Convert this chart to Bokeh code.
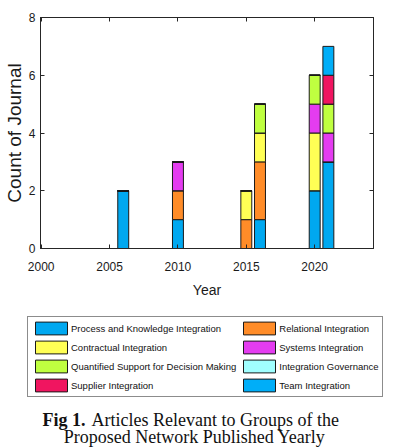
from bokeh.plotting import figure
from bokeh.models import Range1d, LinearAxis, FixedTicker, Legend, LegendItem, Label
from bokeh.embed import file_html
from bokeh.resources import INLINE

# ---- data ----
years = [2006, 2010, 2015, 2016, 2020, 2021]
process_knowledge = [2, 1, 0, 1, 2, 3]
relational = [0, 1, 1, 2, 0, 0]
contractual = [0, 0, 1, 1, 2, 0]
systems = [0, 1, 0, 0, 1, 1]
quantified = [0, 0, 0, 1, 1, 1]
governance = [0, 0, 0, 0, 0, 0]
supplier = [0, 0, 0, 0, 0, 1]
team = [0, 0, 0, 0, 0, 1]

series_keys = ["process_knowledge", "relational", "contractual", "systems",
               "quantified", "governance", "supplier", "team"]
series_labels = ["Process and Knowledge Integration", "Relational Integration",
                 "Contractual Integration", "Systems Integration",
                 "Quantified Support for Decision Making", "Integration Governance",
                 "Supplier Integration", "Team Integration"]
series_colors = ["#00A8F0", "#FF8C28", "#FFFF55", "#E43CF0",
                 "#BFFF40", "#A0FFFF", "#F01560", "#00AEF8"]
x_ticks = [2000, 2005, 2010, 2015, 2020]
y_ticks = [0, 2, 4, 6, 8]

data = dict(years=years, process_knowledge=process_knowledge, relational=relational,
            contractual=contractual, systems=systems, quantified=quantified,
            governance=governance, supplier=supplier, team=team)

SANS = "Liberation Sans"
SERIF = "Liberation Serif"
AX = "#262626"

# ---------------- chart ----------------
p = figure(width=398, height=305, output_backend="svg", toolbar_location=None,
           x_range=Range1d(1999.95, 2024.3), y_range=Range1d(0, 8),
           min_border_left=38, min_border_right=25, min_border_top=17,
           min_border_bottom=57)
p.grid.visible = False
p.outline_line_color = AX

p.vbar_stack(series_keys, x="years", width=0.8, source=data,
             color=series_colors, line_color="#1a1a1a", line_width=1)

for ax in (p.xaxis[0], p.yaxis[0]):
    ax.major_tick_in = 4
    ax.major_tick_out = 0
    ax.minor_tick_line_color = None
    ax.axis_line_color = AX
    ax.major_tick_line_color = AX
    ax.major_label_text_font = SANS
    ax.major_label_text_font_size = "12px"
    ax.major_label_text_color = "#1a1a1a"

p.xaxis[0].ticker = FixedTicker(ticks=x_ticks)
p.yaxis[0].ticker = FixedTicker(ticks=y_ticks)
p.xaxis[0].axis_label = "Year"
p.xaxis[0].axis_label_text_font = SANS
p.xaxis[0].axis_label_text_font_size = "14px"
p.xaxis[0].axis_label_text_font_style = "normal"
p.xaxis[0].axis_label_text_color = "#1a1a1a"
p.xaxis[0].axis_label_standoff = 8
p.xaxis[0].major_label_standoff = 13
p.yaxis[0].axis_label = "Count of Journal"
p.yaxis[0].axis_label_text_font = SANS
p.yaxis[0].axis_label_text_font_size = "19px"
p.yaxis[0].axis_label_text_font_style = "normal"
p.yaxis[0].axis_label_text_color = "#1a1a1a"
p.yaxis[0].axis_label_standoff = 1
p.yaxis[0].major_label_standoff = 5

for loc, ticks in (("right", y_ticks), ("above", x_ticks)):
    a = LinearAxis(ticker=FixedTicker(ticks=ticks), major_tick_in=4, major_tick_out=0,
                   minor_tick_line_color=None, axis_line_color=AX,
                   major_tick_line_color=AX, major_label_text_font_size="0px",
                   major_label_standoff=0)
    p.add_layout(a, loc)

# ---------------- legend + caption ----------------
q = figure(width=398, height=143, output_backend="svg", toolbar_location=None,
           x_axis_type=None, y_axis_type=None, x_range=Range1d(0, 1),
           y_range=Range1d(0, 1), min_border=0, min_border_left=0,
           min_border_right=0, min_border_top=0, min_border_bottom=0,
           outline_line_color=None)
q.grid.visible = False
renderers = q.vbar_stack(series_keys, x="years", width=0.8, source=data,
                         color=series_colors, line_color="#1a1a1a", line_width=1,
                         visible=False)

items = [LegendItem(label=lab, renderers=[r]) for lab, r in zip(series_labels, renderers)]
order = [0, 2, 4, 6, 1, 3, 5, 7]   # two columns of four, column-major
legend = Legend(items=[items[i] for i in order], nrows=4, location=(27, 51),
                border_line_color="#1a1a1a", border_line_width=1,
                background_fill_color="white", background_fill_alpha=1,
                label_text_font=SANS, label_text_font_size="9.5px",
                label_text_color="#111111",
                glyph_width=40, glyph_height=16, label_height=16,
                label_standoff=0, spacing=3, padding=3, margin=0)
q.add_layout(legend, "center")

cap = dict(x_units="screen", y_units="screen", text_font=SERIF,
           text_font_size="18px", text_color="#111111", text_baseline="alphabetic")
q.add_layout(Label(x=42, y=29, text="Fig 1.", text_font_style="bold",
                   text_align="left", **cap))
q.add_layout(Label(x=91, y=29, text="Articles Relevant to Groups of the",
                   text_align="left", **cap))
q.add_layout(Label(x=194, y=12, text="Proposed Network Published Yearly",
                   text_align="center", **cap))

open("out.html", "w").write(file_html([p, q], INLINE))
